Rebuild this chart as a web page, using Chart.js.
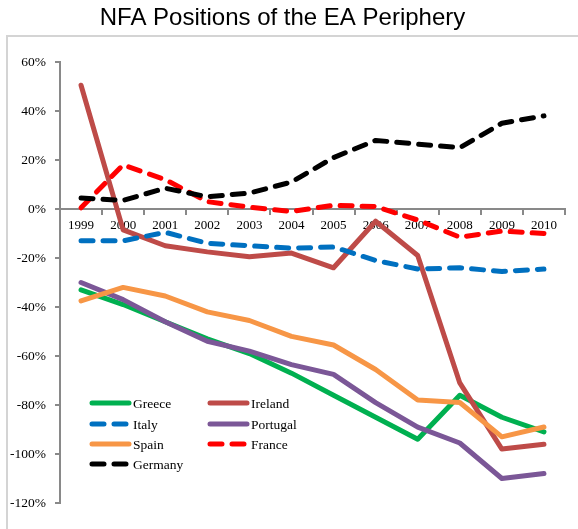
<!DOCTYPE html>
<html>
<head>
<meta charset="utf-8">
<script src="https://cdn.jsdelivr.net/npm/chart.js"></script>
<style>
    html, body { margin: 0; padding: 0; background: #fff; }
    #wrap { width: 578px; height: 529px; }
</style>
</head>
<body>
<div id="wrap"><canvas id="chart" width="578" height="529"></canvas></div>
<script>
const years = ['1999', '2000', '2001', '2002', '2003', '2004', '2005', '2006', '2007', '2008', '2009', '2010'];

// NFA position, % of GDP
const greece   = [-33, -39, -46, -53, -59, -67, -76, -85, -94, -76, -85, -91];
const ireland  = [50.5, -8.5, -15, -17.5, -19.5, -18, -24, -5, -19, -71, -98, -96];
const italy    = [-13, -13, -9.5, -14, -15, -16, -15.5, -21, -24.5, -24, -25.5, -24.5];
const portugal = [-30, -37, -46, -54, -58, -63.5, -67.5, -79, -89, -95.5, -110, -108];
const spain    = [-37.5, -32, -35.5, -42, -45.5, -52, -55.5, -65.5, -78, -79, -93, -89];
const france   = [0.5, 18, 12, 3, 0.8, -1, 1.5, 1, -4.5, -11.5, -9, -10];
const germany  = [4.5, 3.5, 8.5, 5, 6.5, 11, 21, 28, 26.5, 25, 35, 38];

const SERIF = '"Times New Roman", "Liberation Serif", serif';
const DASH = [12, 10];

const makeSet = (label, data, color, dashed, order) => ({
    label: label,
    data: data,
    borderColor: color,
    backgroundColor: color,
    borderWidth: 5,
    borderDash: dashed ? DASH : [],
    borderCapStyle: 'round',
    borderJoinStyle: 'round',
    pointRadius: 0,
    tension: 0,
    order: order,
});

// gray frame around the plot, like the spreadsheet chart object
const framePlugin = {
    id: 'frame',
    beforeDraw(chart) {
        const ctx = chart.ctx;
        ctx.save();
        ctx.strokeStyle = '#d4d4d4';
        ctx.lineWidth = 2;
        ctx.beginPath();
        ctx.moveTo(7, 529);
        ctx.lineTo(7, 36);
        ctx.lineTo(578, 36);
        ctx.stroke();
        ctx.restore();
    },
};

// two-column legend drawn inside the plot area
const legendPlugin = {
    id: 'insideLegend',
    afterDraw(chart) {
        const ctx = chart.ctx;
        const cols = [92, 210];
        const rows = [403, 424, 444, 464];
        ctx.save();
        ctx.font = '13.5px ' + SERIF;
        ctx.textBaseline = 'middle';
        ctx.fillStyle = '#000';
        chart.data.datasets.forEach((ds, i) => {
            const x = cols[i % 2];
            const y = rows[Math.floor(i / 2)];
            ctx.strokeStyle = ds.borderColor;
            ctx.lineWidth = 5;
            ctx.lineCap = 'round';
            ctx.setLineDash(ds.borderDash);
            ctx.beginPath();
            ctx.moveTo(x, y);
            ctx.lineTo(x + 37, y);
            ctx.stroke();
            ctx.setLineDash([]);
            ctx.fillText(ds.label, x + 41, y + 1);
        });
        ctx.restore();
    },
};

new Chart(document.getElementById('chart').getContext('2d'), {
    type: 'line',
    data: {
        labels: years,
        datasets: [
            makeSet('Greece', greece, '#00b050', false, 7),
            makeSet('Ireland', ireland, '#be4b48', false, 6),
            makeSet('Italy', italy, '#0070c0', true, 5),
            makeSet('Portugal', portugal, '#7b5797', false, 4),
            makeSet('Spain', spain, '#f79646', false, 3),
            makeSet('France', france, '#ff0000', true, 2),
            makeSet('Germany', germany, '#000000', true, 1),
        ],
    },
    options: {
        responsive: false,
        animation: false,
        devicePixelRatio: 1,
        layout: { padding: { top: 0, left: 0, right: 13, bottom: 26 } },
        plugins: {
            legend: { display: false },
            tooltip: { enabled: false },
            title: {
                display: true,
                text: 'NFA Positions of the EA Periphery',
                color: '#000',
                font: { family: '"Liberation Sans", Arial, sans-serif', size: 24, weight: 'normal' },
                padding: { top: 4, bottom: 29.2 },
            },
        },
        scales: {
            x: {
                type: 'category',
                position: { y: 0 },
                offset: true,
                grid: {
                    offset: true,
                    drawOnChartArea: false,
                    drawTicks: true,
                    tickLength: 5,
                    color: '#898989',
                    lineWidth: 2,
                },
                border: { color: '#898989', width: 2 },
                ticks: {
                    color: '#000',
                    font: { family: SERIF, size: 13 },
                    padding: 4,
                    maxRotation: 0,
                    autoSkip: false,
                },
            },
            y: {
                min: -120,
                max: 60,
                afterFit(scale) { scale.width = 60; },
                grid: {
                    drawOnChartArea: false,
                    drawTicks: true,
                    tickLength: 5,
                    color: '#898989',
                    lineWidth: 2,
                },
                border: { color: '#898989', width: 2 },
                ticks: {
                    stepSize: 20,
                    color: '#000',
                    padding: 9,
                    font: { family: SERIF, size: 13.5 },
                    callback: (v) => v + '%',
                },
            },
        },
    },
    plugins: [framePlugin, legendPlugin],
});
</script>
</body>
</html>
